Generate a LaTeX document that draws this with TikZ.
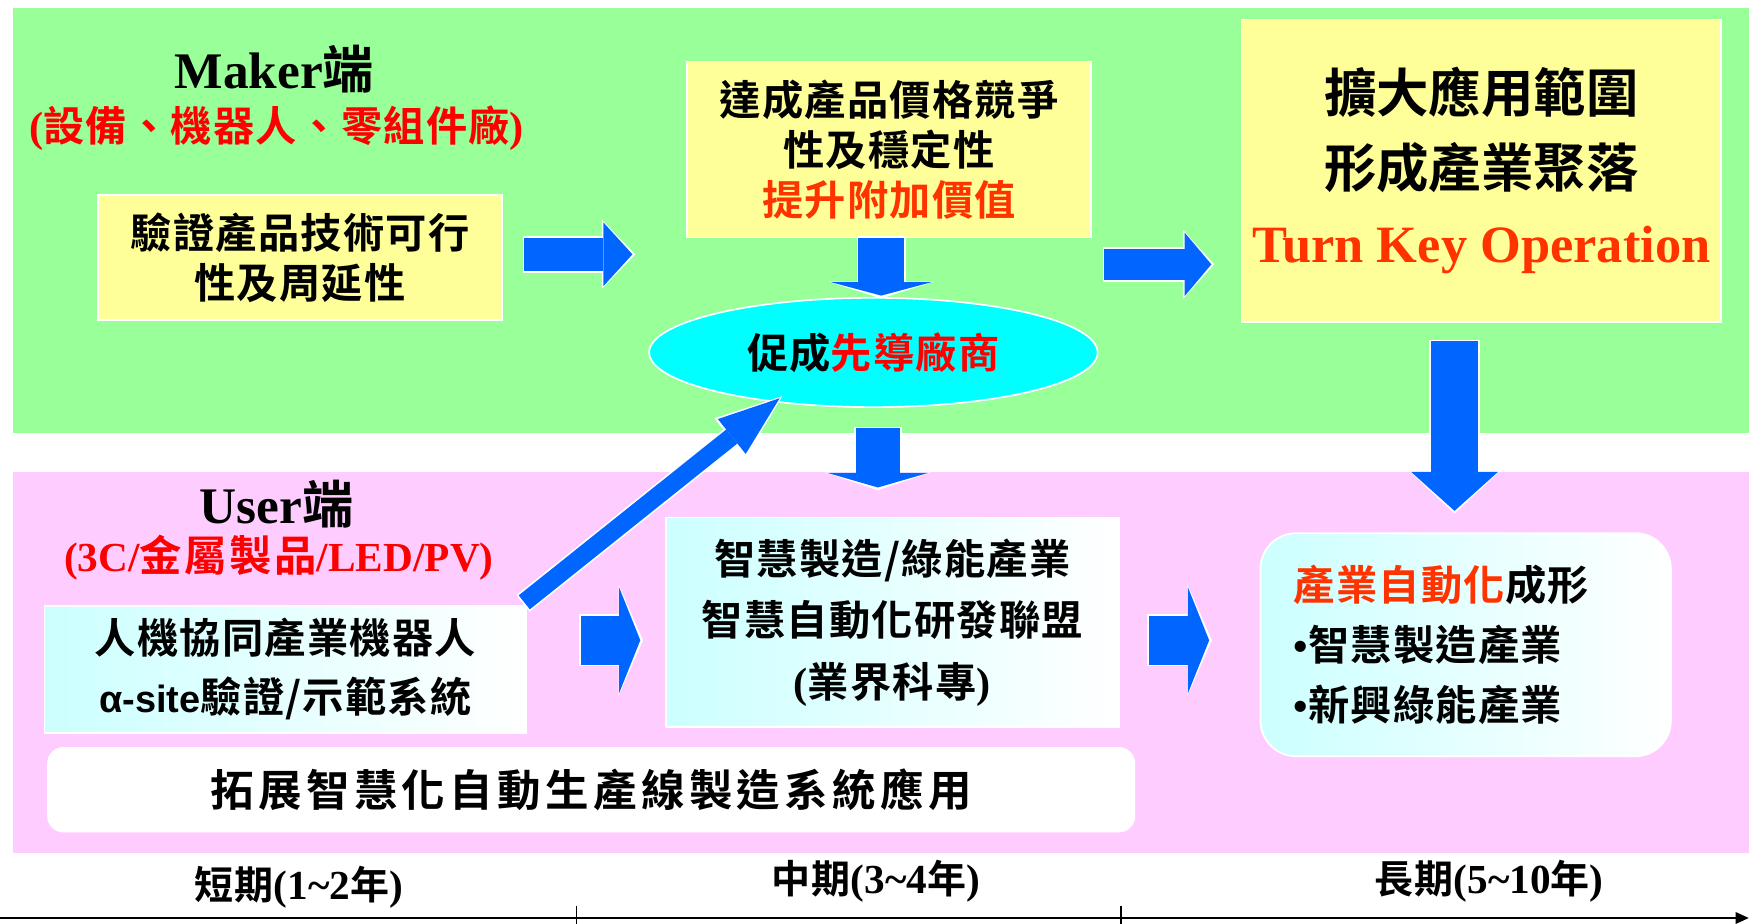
\documentclass[tikz,border=0pt]{standalone}
\usepackage{fontspec}
\setmainfont{Liberation Serif}
\newfontfamily\cjka[LetterSpace=3,BoldFont={Noto Sans CJK TC Bold}]{Noto Sans CJK TC}
\newfontfamily\cjkb[LetterSpace=6,BoldFont={Noto Sans CJK TC Bold}]{Noto Sans CJK TC}
\newfontfamily\cjkc[LetterSpace=10,BoldFont={Noto Sans CJK TC Bold}]{Noto Sans CJK TC}
\newfontfamily\cjkn[BoldFont={Noto Sans CJK TC Bold}]{Noto Sans CJK TC}
\newfontfamily\arialb{Liberation Sans}
\usetikzlibrary{shapes.geometric,arrows.meta,calc}
\definecolor{bandgreen}{HTML}{99FF99}
\definecolor{bandpink}{HTML}{FFCCFF}
\definecolor{boxyellow}{HTML}{FFFF99}
\definecolor{ellcyan}{HTML}{00FFFF}
\definecolor{arrowblue}{HTML}{0066FF}
\definecolor{lightcyan}{HTML}{CCFFFF}
\definecolor{hired}{HTML}{FF0000}
\definecolor{orangered}{HTML}{FF3300}
\newcommand\tpar[1]{{\rmfamily\fontsize{38}{38}\selectfont #1}}
\newcommand\tlat[1]{{\rmfamily\fontsize{37}{37}\selectfont #1}}
\tikzset{
  ybox/.style={draw=white, line width=1.5pt, fill=boxyellow, inner sep=0pt, align=center},
  gbox/.style={draw=white, line width=1.5pt, left color=lightcyan, right color=white, inner sep=0pt, align=center},
  wbox/.style={draw=white, line width=1.5pt, fill=white, inner sep=0pt, align=center},
  bodytext/.style={font=\cjka\bfseries\fontsize{37}{#1}\selectfont},
  timetext/.style={font=\cjka\bfseries\fontsize{35}{36}\selectfont},
  blockarrow/.style n args={3}{draw=arrowblue, line width=#1, -{Triangle[length=#3, width=#2, line width=0pt]}},
  arrowrim/.style n args={3}{draw=white, line width=#1, -{Triangle[length=#3, width=#2, line width=0pt]}},
}
\begin{document}
\begin{tikzpicture}[x=1pt,y=-1pt]
\useasboundingbox (0,0) rectangle (1568,828);
\fill[white] (0,0) rectangle (1568,828);
% bands
\fill[bandgreen] (12,7) rectangle (1568,388);
\fill[bandpink] (12,423) rectangle (1568,765);

% titles
\node[font=\bfseries\fontsize{46}{50}\selectfont] (maker) at (246,62) {Maker{\cjkn\bfseries 端}};
\node[text=hired, font=\cjka\bfseries\fontsize{37}{38}\selectfont] (makersub) at (248,115) {\tpar{(}設備、機器人、零組件廠\tpar{)}};
\node[font=\bfseries\fontsize{46}{50}\selectfont] (user) at (248,452) {User{\cjkn\bfseries 端}};
\node[text=hired, font=\cjkb\bfseries\fontsize{38}{38}\selectfont] (usersub) at (250,500) {{\rmfamily\fontsize{37}{37}\selectfont (3C/}金屬製品{\rmfamily\fontsize{37}{37}\selectfont /LED/PV)}};

% boxes
\node[ybox, bodytext=45, minimum width=362pt, minimum height=112pt] (b1) at (269,231) {驗證產品技術可行\\性及周延性};
\node[ybox, bodytext=45, minimum width=362pt, minimum height=158pt] (b2) at (797,134) {達成產品價格競爭\\性及穩定性\\{\color{orangered}提升附加價值}};
\node[ybox, font=\cjkn\bfseries\fontsize{47}{67}\selectfont, minimum width=430pt, minimum height=271pt] (b3) at (1328,153) {擴大應用範圍\\形成產業聚落\\{\rmfamily\color{orangered}\fontsize{47}{55}\selectfont Turn Key Operation}};
\node[ellipse, draw=white, line width=1.5pt, fill=ellcyan, minimum width=402pt, minimum height=98pt, inner sep=0pt, font=\cjka\bfseries\fontsize{37}{38}\selectfont] (ell) at (783,316) {促成{\color{hired}先導廠商}};
\node[gbox, bodytext=53, minimum width=432pt, minimum height=114pt] (b4) at (256,600) {人機協同產業機器人\\{\arialb\bfseries\fontsize{34}{34}\selectfont α-site}驗證/示範系統};
\node[gbox, bodytext=55, minimum width=406pt, minimum height=188pt] (b5) at (800,558) {智慧製造/綠能產業\\智慧自動化研發聯盟\\\tpar{(}業界科專\tpar{)}};
\node[gbox, bodytext=54, rounded corners=32pt, minimum width=368pt, minimum height=200pt, text width=308pt, inner xsep=30pt, align=left] (b6) at (1314,578) {{\color{orangered}產業自動化}成形\\{\rmfamily •}智慧製造產業\\{\rmfamily •}新興綠能產業};
\node[wbox, rounded corners=14pt, font=\cjkc\bfseries\fontsize{39}{40}\selectfont, minimum width=974pt, minimum height=75pt] (b7) at (530,708) {拓展智慧化自動生產線製造系統應用};

% block arrows
\coordinate (a1s) at (470,228);  \coordinate (a1e) at (567,228);
\coordinate (a2s) at (790,213);  \coordinate (a2e) at (790,265);
\coordinate (a3s) at (990,237);  \coordinate (a3e) at (1086,237);
\coordinate (a4s) at (1304,306); \coordinate (a4e) at (1304,458);
\coordinate (a5s) at (787,384);  \coordinate (a5e) at (787,437);
\coordinate (a6s) at (470,540);  \coordinate (a6e) at (699,357);
\coordinate (a7s) at (521,574);  \coordinate (a7e) at (574,574);
\coordinate (a8s) at (1030,574); \coordinate (a8e) at (1084,574);
% white rims
\draw[arrowrim={33pt}{62pt}{30pt}] ($(a1s)!-1.5pt!(a1e)$) -- ($(a1e)!-2.5pt!(a1s)$);
\draw[arrowrim={44pt}{95pt}{15pt}] ($(a2s)!-1.5pt!(a2e)$) -- ($(a2e)!-2.5pt!(a2s)$);
\draw[arrowrim={31pt}{62pt}{28pt}] ($(a3s)!-1.5pt!(a3e)$) -- ($(a3e)!-2.5pt!(a3s)$);
\draw[arrowrim={45pt}{83pt}{39pt}] ($(a4s)!-1.5pt!(a4e)$) -- ($(a4e)!-2.5pt!(a4s)$);
\draw[arrowrim={43pt}{95pt}{16pt}] ($(a5s)!-1.5pt!(a5e)$) -- ($(a5e)!-2.5pt!(a5s)$);
\draw[arrowrim={19pt}{45pt}{60pt}] ($(a6s)!-1.5pt!(a6e)$) -- ($(a6e)!-3pt!(a6s)$);
\draw[arrowrim={47pt}{100pt}{22pt}] ($(a7s)!-1.5pt!(a7e)$) -- ($(a7e)!-2.5pt!(a7s)$);
\draw[arrowrim={47pt}{100pt}{22pt}] ($(a8s)!-1.5pt!(a8e)$) -- ($(a8e)!-2.5pt!(a8s)$);
% blue arrows
\draw[blockarrow={30pt}{57pt}{26pt}] (a1s) -- (a1e);
\draw[blockarrow={41pt}{90pt}{12pt}] (a2s) -- (a2e);
\draw[blockarrow={28pt}{57pt}{24pt}] (a3s) -- (a3e);
\draw[blockarrow={42pt}{78pt}{35pt}] (a4s) -- (a4e);
\draw[blockarrow={40pt}{90pt}{13pt}] (a5s) -- (a5e);
\draw[blockarrow={16pt}{40pt}{55pt}] (a6s) -- (a6e);
\draw[blockarrow={44pt}{95pt}{19pt}] (a7s) -- (a7e);
\draw[blockarrow={44pt}{95pt}{19pt}] (a8s) -- (a8e);

% timeline
\node[timetext] (t1) at (268,795) {短期\tlat{(1\textasciitilde 2}年\tlat{)}};
\node[timetext] (t2) at (785,790) {中期\tlat{(3\textasciitilde 4}年\tlat{)}};
\node[timetext] (t3) at (1335,790) {長期\tlat{(5\textasciitilde 10}年\tlat{)}};
\coordinate (ax0) at (0,823);
\coordinate (ax1) at (1568,823);
\draw[line width=2.5pt, -{Triangle[length=12pt, width=10pt]}] (ax0) -- (ax1);
\draw[line width=1pt] (517,812) -- (517,828);
\draw[line width=1pt] (1005,812) -- (1005,828);
\end{tikzpicture}
\end{document}
